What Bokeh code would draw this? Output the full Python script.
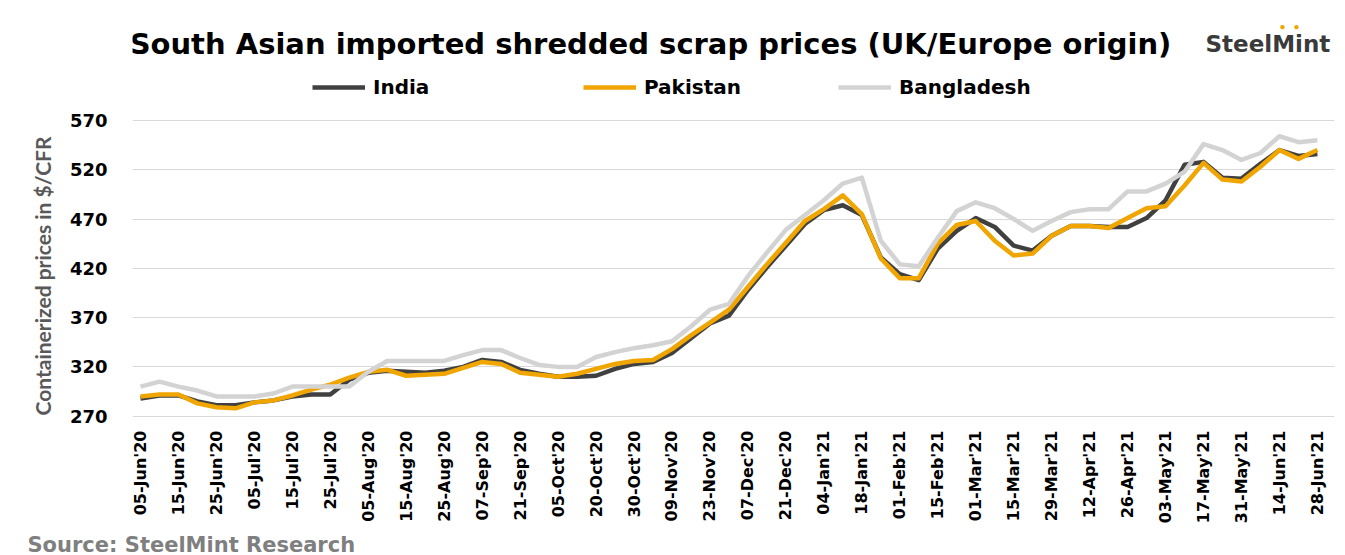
from math import pi
from bokeh.plotting import figure
from bokeh.models import FixedTicker, Label, Legend, LegendItem, Range1d, Title
from bokeh.embed import file_html
from bokeh.resources import INLINE

# ---------------- data ----------------
tick_labels = ["05-Jun'20", "15-Jun'20", "25-Jun'20", "05-Jul'20", "15-Jul'20", "25-Jul'20",
               "05-Aug'20", "15-Aug'20", "25-Aug'20", "07-Sep'20", "21-Sep'20", "05-Oct'20",
               "20-Oct'20", "30-Oct'20", "09-Nov'20", "23-Nov'20", "07-Dec'20", "21-Dec'20",
               "04-Jan'21", "18-Jan'21", "01-Feb'21", "15-Feb'21", "01-Mar'21", "15-Mar'21",
               "29-Mar'21", "12-Apr'21", "26-Apr'21", "03-May'21", "17-May'21", "31-May'21",
               "14-Jun'21", "28-Jun'21"]

india = [288, 291, 291, 285, 281, 281, 284, 286, 290, 292, 292, 307, 314, 316, 315, 314,
         316, 320, 327, 325, 317, 313, 310, 310, 311, 318, 323, 325, 334, 349, 364, 372,
         398, 421, 443, 465, 479, 484, 474, 431, 414, 408, 440, 458, 471, 462, 443, 438,
         453, 463, 463, 462, 462, 471, 489, 525, 528, 512, 511, 526, 540, 534, 536]

pakistan = [290, 292, 292, 283, 279, 278, 284, 286, 291, 297, 302, 309, 315, 317, 311, 312,
            313, 319, 325, 323, 314, 312, 310, 313, 318, 323, 326, 327, 338, 352, 365, 378,
            401, 424, 446, 468, 480, 494, 475, 430, 410, 410, 445, 464, 468, 448, 433, 435,
            453, 463, 463, 461, 471, 481, 483, 504, 527, 510, 508, 523, 540, 531, 540]

bangladesh = [300, 305, 300, 296, 290, 290, 290, 293, 300, 300, 300, 300, 315, 326, 326, 326,
              326, 332, 337, 337, 329, 322, 320, 320, 330, 335, 339, 342, 346, 361, 378, 384,
              412, 436, 459, 474, 489, 506, 512, 448, 424, 422, 451, 478, 487, 481, 470, 458,
              468, 477, 480, 480, 498, 498, 506, 518, 546, 540, 530, 537, 554, 548, 550]

series_names = ["India", "Pakistan", "Bangladesh"]
series_colors = ["#404040", "#F0A500", "#D3D3D3"]
y_ticks = [270, 320, 370, 420, 470, 520, 570]

x = list(range(len(india)))

# ---------------- figure ----------------
# frame spans from the top of the chart down to the x axis so that the
# title, logo and legend (drawn inside it) are not clipped
p = figure(width=1345, height=555, frame_width=1202, frame_height=412,
           min_border_left=132, min_border_right=11, min_border_top=8, min_border_bottom=135,
           x_range=Range1d(-0.42, 62.9), y_range=Range1d(265.6, 683.6),
           output_backend="svg", toolbar_location=None)
p.outline_line_color = None
p.background_fill_color = "white"
p.border_fill_color = "white"

p.xgrid.grid_line_color = None
p.ygrid.grid_line_color = "#D9D9D9"
p.ygrid.grid_line_width = 1.2

p.xaxis.ticker = FixedTicker(ticks=list(range(0, len(india), 2)))
p.xaxis.major_label_overrides = {i * 2: lab for i, lab in enumerate(tick_labels)}
p.xaxis.major_label_orientation = pi / 2
p.xaxis.axis_line_color = None
p.xaxis.major_tick_line_color = None
p.xaxis.minor_tick_line_color = None
p.xaxis.major_tick_out = 0
p.xaxis.major_label_standoff = 10
p.xaxis.major_label_text_font = "DejaVu Sans"
p.xaxis.major_label_text_font_style = "bold"
p.xaxis.major_label_text_font_size = "16px"
p.xaxis.major_label_text_color = "#000000"

p.yaxis.ticker = FixedTicker(ticks=y_ticks)
p.yaxis.axis_line_color = None
p.yaxis.major_tick_line_color = None
p.yaxis.minor_tick_line_color = None
p.yaxis.major_tick_out = 0
p.yaxis.major_label_standoff = 25
p.yaxis.major_label_text_font = "DejaVu Sans"
p.yaxis.major_label_text_font_style = "bold"
p.yaxis.major_label_text_font_size = "18px"
p.yaxis.major_label_text_color = "#000000"

renderers = []
for vals, col in zip([india, pakistan, bangladesh], series_colors):
    r = p.line(x, vals, line_color=col, line_width=4.5, line_join="round")
    renderers.append(r)

# legends (one per item, placed like the reference)
leg_x = [180, 451, 706]
for name, r, lx in zip(series_names, renderers, leg_x):
    leg = Legend(items=[LegendItem(label=name, renderers=[r])], location=(lx, 321),
                 orientation="horizontal", glyph_width=53, glyph_height=24, label_height=24,
                 label_standoff=8, padding=0, margin=0, spacing=0,
                 border_line_color=None, background_fill_alpha=0,
                 label_text_font="DejaVu Sans", label_text_font_style="bold",
                 label_text_font_size="20px", label_text_color="#000000")
    p.add_layout(leg, "center")

# title
p.add_layout(Label(x=518, y=377, x_units="screen", y_units="screen",
                   text="South Asian imported shredded scrap prices (UK/Europe origin)",
                   text_align="center", text_baseline="middle",
                   text_font="DejaVu Sans", text_font_style="bold",
                   text_font_size="29px", text_color="#000000"))
# logo
p.add_layout(Label(x=1073, y=377, x_units="screen", y_units="screen", text="SteelMint",
                   text_align="left", text_baseline="middle",
                   text_font="DejaVu Sans", text_font_style="bold",
                   text_font_size="23px", text_color="#3A3A3A"))
for dx in [1150, 1164]:
    p.add_layout(Label(x=dx, y=394, x_units="screen", y_units="screen", text="\u25CF",
                       text_align="center", text_baseline="middle",
                       text_font_size="10px", text_color="#F0A500"))

# y-axis title (outside the frame, as a side title)
p.add_layout(Title(text="Containerized prices in $/CFR", align="left", offset=5,
                   vertical_align="middle", standoff=22,
                   text_font="Lato", text_font_style="bold",
                   text_font_size="21px", text_color="#595959"), "left")

# source (below the x axis)
p.add_layout(Title(text="Source: SteelMint Research", align="left", offset=-105,
                   standoff=8,
                   text_font="DejaVu Sans", text_font_style="bold",
                   text_font_size="21px", text_color="#7F7F7F"), "below")

open("out.html", "w").write(file_html(p, INLINE))
